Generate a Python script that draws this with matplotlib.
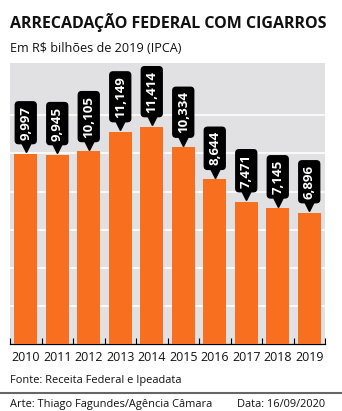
import matplotlib
matplotlib.use('Agg')
import matplotlib.pyplot as plt
from matplotlib.transforms import offset_copy
import numpy as np

plt.rcParams['font.family'] = ['Open Sans', 'DejaVu Sans']

years = ['2010', '2011', '2012', '2013', '2014', '2015', '2016', '2017', '2018', '2019']
valores = [9.997, 9.945, 10.105, 11.149, 11.414, 10.334, 8.644, 7.471, 7.145, 6.896]
rotulos = ['9,997', '9,945', '10,105', '11,149', '11,414', '10,334', '8,644', '7,471', '7,145', '6,896']

laranja = '#F8701F'
cinza = '#E1E1E3'

W, H = 342, 411
fig = plt.figure(figsize=(W / 100, H / 100), dpi=100)
ax = fig.add_axes([10 / W, (H - 344) / H, 315 / W, (344 - 63) / H])
ax.set_facecolor(cinza)

x = np.arange(len(years))
ax.bar(x, valores, width=0.72, color=laranja, zorder=3)

ax.set_xlim(-0.5, len(years) - 0.5)
ax.set_ylim(0, 14.75)
ax.set_yticks([2, 4, 6, 8, 10, 12])
ax.yaxis.grid(True, color='white', lw=1.2, zorder=1)
ax.tick_params(axis='y', length=0, labelleft=False)
ax.set_xticks(x)
ax.set_xticklabels(years, fontsize=8.9, color='#111111')
ax.tick_params(axis='x', length=0, pad=5)
ax.set_xticks(np.arange(-0.5, len(years)), minor=True)
ax.tick_params(axis='x', which='minor', length=4, direction='in', width=0.8, color='black')
for s in ['top', 'left', 'right']:
    ax.spines[s].set_visible(False)
ax.spines['bottom'].set_color('black')
ax.spines['bottom'].set_linewidth(0.9)

# etiquetas pretas com o valor de cada barra
tri = offset_copy(ax.transData, fig=fig, x=0, y=4.5, units='points')
for i, v in enumerate(valores):
    ax.plot(i, v, marker='v', ms=7, color='black', transform=tri, zorder=4, clip_on=False)
    ax.annotate(rotulos[i], xy=(i, v), xytext=(0, 10), textcoords='offset points',
                rotation=90, ha='center', va='bottom', color='white',
                fontsize=9.5, fontweight='bold', zorder=5,
                bbox=dict(boxstyle='round,pad=0.3,rounding_size=0.25', fc='black', ec='black'))

titulo = fig.text(10 / W, 1 - 28 / H, 'ARRECADAÇÃO FEDERAL COM CIGARROS', fontsize=13.5,
                  fontweight='bold', color='#111111', va='baseline', ha='left',
                  family=['Liberation Sans Narrow', 'Open Sans'])
# ajusta o título à largura do gráfico
r = fig.canvas.get_renderer()
larg = titulo.get_window_extent(r).width
if larg > 318:
    titulo.set_fontsize(13.5 * 318 / larg)

fig.text(10 / W, 1 - 52 / H, 'Em R$ bilhões de 2019 (IPCA)', fontsize=9.1,
         color='#111111', va='baseline', ha='left')
fig.text(10 / W, 1 - 383 / H, 'Fonte: Receita Federal e Ipeadata', fontsize=7.9,
         color='#111111', va='baseline', ha='left')
fig.add_artist(plt.Line2D([0, 1], [1 - 393 / H, 1 - 393 / H], color='#666666', lw=1.5,
                          transform=fig.transFigure))
fig.text(10 / W, 1 - 407 / H, 'Arte: Thiago Fagundes/Agência Câmara', fontsize=7.9,
         color='#111111', va='baseline', ha='left')
fig.text(325 / W, 1 - 407 / H, 'Data: 16/09/2020', fontsize=7.9,
         color='#111111', va='baseline', ha='right')

fig.savefig('out.png', dpi=100, facecolor='white')
